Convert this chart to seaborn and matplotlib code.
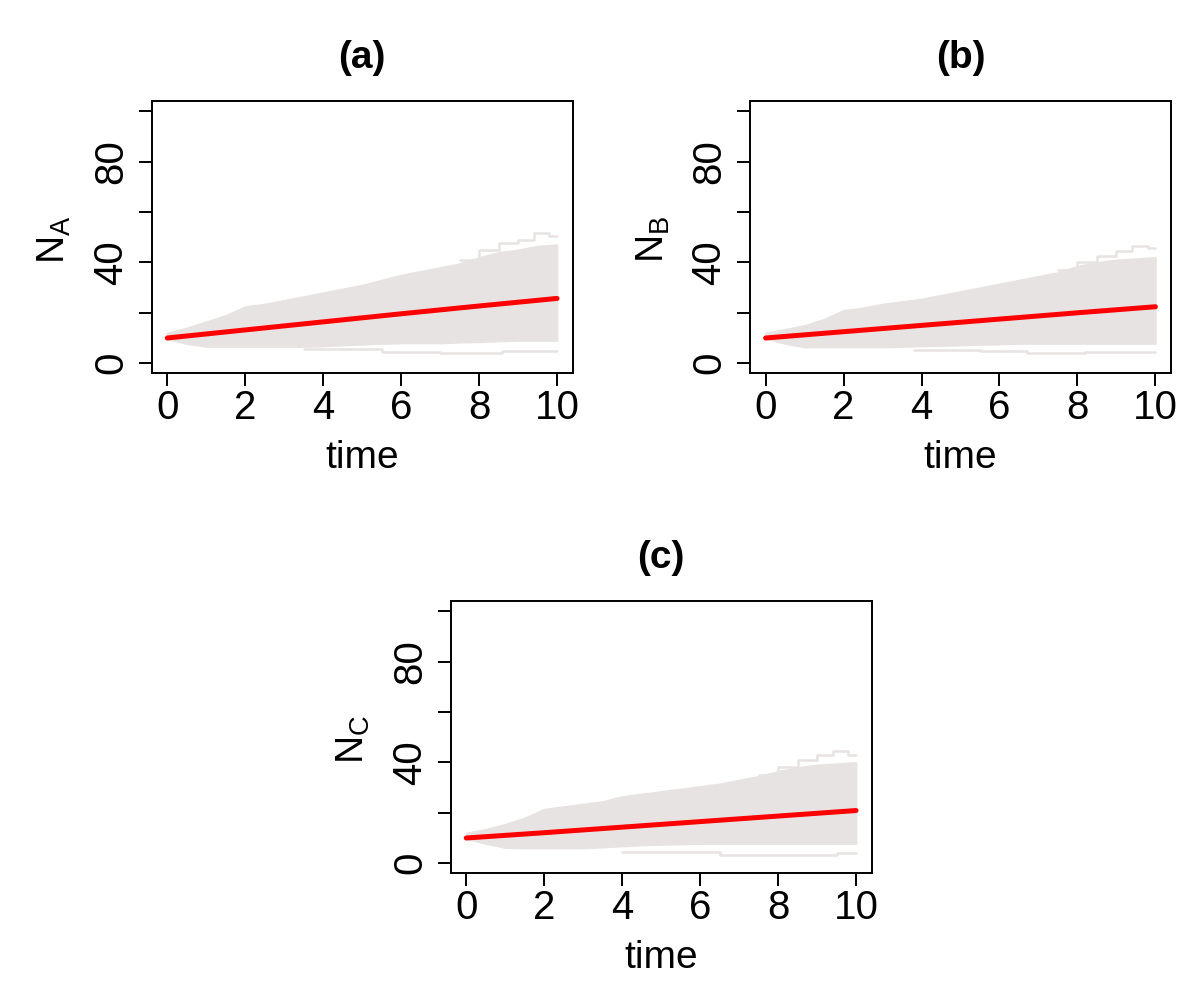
"""
Stochastic trajectories (grey), empirical mean (black) and theory (red)
for three populations N_A, N_B, N_C
"""
import matplotlib
matplotlib.use("Agg")
import matplotlib.pyplot as plt
import pandas as pd
import seaborn as sns

# time grid for the envelope of the simulated paths
t_grid = [0, 0.5, 1, 1.5, 2, 2.5, 3, 3.5, 4, 4.5, 5,
          5.5, 6, 6.5, 7, 7.5, 8, 8.5, 9, 9.5, 10]

upper_a = [12, 14, 16.5, 19, 22.5, 23.5, 25, 26.5, 28, 29.5, 31,
           33, 35, 36.5, 38, 39.5, 42, 44, 45, 46.5, 47]
lower_a = [9.7, 7.7, 6.6, 6.6, 6.6, 6.6, 6.6, 6.6, 6.8, 7.2, 7.5,
           7.8, 8, 8, 8, 8.3, 8.5, 8.8, 9, 9, 9]
upper_b = [12, 13.5, 15, 17.5, 21, 22, 23.5, 24.5, 25.5, 27, 28.5,
           30, 31.5, 33, 34.5, 36, 38.5, 40, 41, 41.5, 42]
lower_b = [9.8, 7.8, 6.4, 6.4, 6.4, 6.4, 6.4, 6.6, 6.8, 7, 7.2,
           7.4, 7.6, 7.8, 7.8, 7.8, 7.8, 7.8, 7.8, 7.8, 7.8]
upper_c = [12, 13.5, 15.5, 18, 21.5, 22.5, 23.5, 24.5, 26.5, 27.5, 28.5,
           29.5, 30.5, 31.5, 33, 34.5, 36.5, 38, 39, 39.5, 40]
lower_c = [9.8, 7.8, 6.2, 6, 6, 6, 6, 6.4, 6.8, 7.2, 7.4,
           7.6, 7.8, 7.8, 7.8, 7.8, 7.8, 7.8, 7.8, 7.8, 7.8]

# a few extreme single paths sticking out of the band
top_t = [7.5, 8, 8.5, 9, 9.4, 9.8, 10]
top_a = [41, 45, 47.5, 49, 51.5, 50.5, 50.5]
top_b = [37, 40, 42.5, 44.5, 46.5, 45.5, 45.5]
top_c = [35, 38, 41, 43, 44.5, 43, 43]
bot_t_a = [3.5, 5.5, 7, 8.6, 10]
bot_a = [5.8, 4.6, 4.2, 5, 5]
bot_t_b = [3.8, 5.5, 6.7, 8.2, 10]
bot_b = [5.2, 5.0, 3.9, 4.3, 4.3]
bot_t_c = [4, 6.5, 9.5, 10]
bot_c = [4.6, 3.3, 4.0, 4.0]

# mean of simulations and deterministic solution
t_line = [0, 2, 4, 6, 8, 10]
mean_a = [10, 13.1, 16.3, 19.4, 22.5, 25.4]
mean_b = [10, 12.5, 14.9, 17.4, 19.9, 22.2]
mean_c = [10, 12.1, 14.2, 16.4, 18.5, 20.6]
theo_a = [10, 13.2, 16.4, 19.6, 22.7, 25.7]
theo_b = [10, 12.5, 15, 17.5, 20, 22.4]
theo_c = [10, 12.1, 14.3, 16.5, 18.7, 20.9]

sns.set_theme(style="white")
plt.rcParams["font.family"] = ["Liberation Sans", "DejaVu Sans"]
plt.rcParams["mathtext.fontset"] = "custom"
plt.rcParams["mathtext.rm"] = "Liberation Sans"
plt.rcParams["text.color"] = "black"
plt.rcParams["axes.labelcolor"] = "black"
plt.rcParams["xtick.color"] = "black"
plt.rcParams["ytick.color"] = "black"

grey = "#E8E3E3"
fig = plt.figure(figsize=(11.96, 10), dpi=100)

panels = [
    ("(a)", "A", [0.1268, 0.6267, 0.352, 0.2723], upper_a, lower_a,
     top_a, bot_t_a, bot_a, mean_a, theo_a),
    ("(b)", "B", [0.6271, 0.6267, 0.352, 0.2723], upper_b, lower_b,
     top_b, bot_t_b, bot_b, mean_b, theo_b),
    ("(c)", "C", [0.3768, 0.1267, 0.352, 0.2723], upper_c, lower_c,
     top_c, bot_t_c, bot_c, mean_c, theo_c),
]

for title, sub, rect, up, lo, top, bt, bot, mean, theo in panels:
    ax = fig.add_axes(rect)
    ax.fill_between(t_grid, lo, up, color=grey, lw=1.2, edgecolor=grey)
    ax.step(top_t, top, where="post", color=grey, lw=1.8)
    ax.step(bt, bot, where="post", color=grey, lw=1.8)

    df = pd.DataFrame({"time": t_line, "mean": mean, "theory": theo})
    sns.lineplot(data=df, x="time", y="mean", color="black", lw=1.6, ax=ax)
    sns.lineplot(data=df, x="time", y="theory", color="#FF0000", lw=3.6, ax=ax)

    ax.set_xlim(-0.4, 10.4)
    ax.set_ylim(-4, 104)
    ax.set_xticks([0, 2, 4, 6, 8, 10])
    ax.set_xticklabels(["0", "2", "4", "6", "8", "10"], fontsize=29)
    ax.set_yticks([0, 20, 40, 60, 80, 100])
    ax.set_yticklabels(["0", "", "40", "", "80", ""], fontsize=29,
                       rotation=90, va="center")
    ax.tick_params(axis="both", direction="out", length=9.5, width=1.4,
                   color="black", bottom=True, left=True)
    ax.tick_params(axis="x", pad=2)
    ax.tick_params(axis="y", pad=6)
    for s in ax.spines.values():
        s.set_color("black")
        s.set_linewidth(1.4)

    ax.set_xlabel("time", fontsize=28)
    ax.xaxis.label.set_va("baseline")
    ax.xaxis.set_label_coords(0.5, -0.348)
    ax.set_ylabel(r"$\mathregular{N_%s}$" % sub, fontsize=28)
    ax.yaxis.label.set_va("baseline")
    ax.yaxis.set_label_coords(-0.206, 0.49)
    ax.set_title(title, fontsize=28, fontweight="bold", pad=24)

fig.savefig("out.png", dpi=100)
